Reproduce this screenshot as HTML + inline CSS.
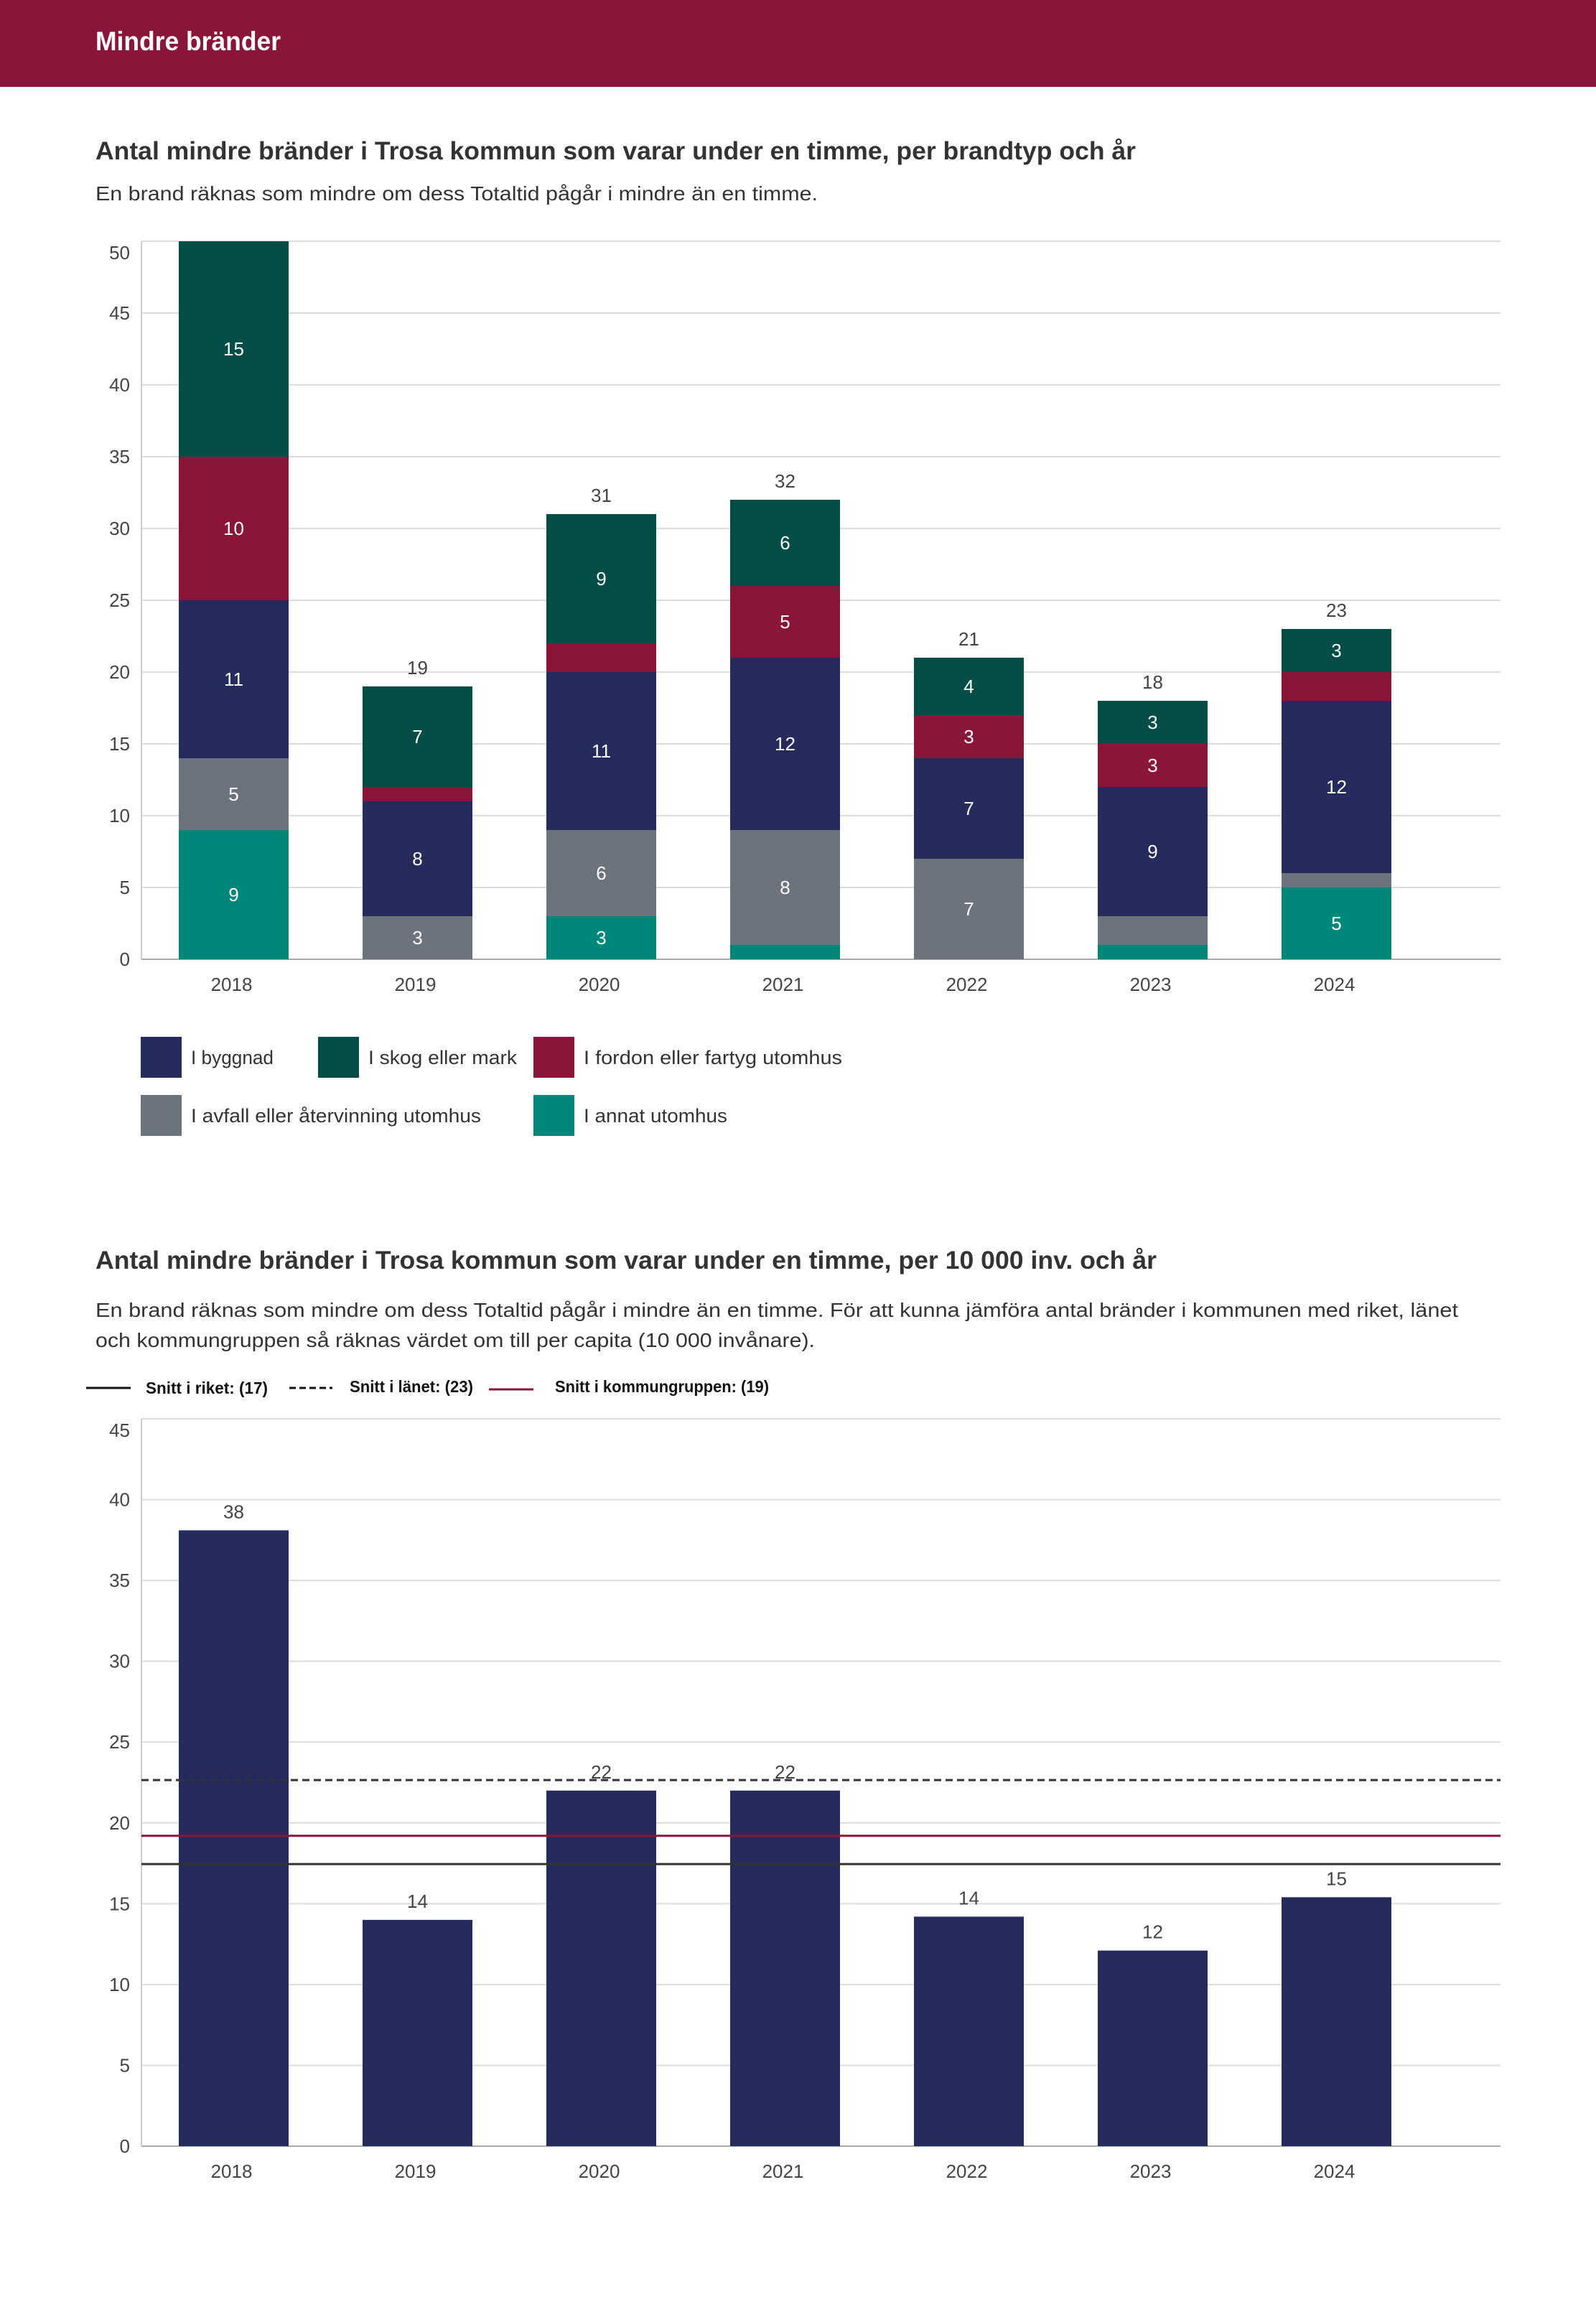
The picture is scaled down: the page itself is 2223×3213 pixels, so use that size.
<!DOCTYPE html>
<html><head><meta charset="utf-8"><style>
html,body{margin:0;padding:0;background:#fff;}
svg{display:block;font-family:"Liberation Sans",sans-serif;}
</style></head><body>
<svg id="s" width="2223" height="3213" viewBox="0 0 2223 3213" xmlns="http://www.w3.org/2000/svg">
<rect x="0" y="0" width="2223" height="121" fill="#8b1538"/>
<text x="133" y="70" font-size="37" font-weight="bold" fill="#fff" textLength="258" lengthAdjust="spacingAndGlyphs">Mindre bränder</text>
<text x="133" y="222" font-size="35" font-weight="bold" fill="#333" textLength="1449" lengthAdjust="spacingAndGlyphs">Antal mindre bränder i Trosa kommun som varar under en timme, per brandtyp och år</text>
<text x="133" y="279" font-size="28" fill="#333" textLength="1006" lengthAdjust="spacingAndGlyphs">En brand räknas som mindre om dess Totaltid pågår i mindre än en timme.</text>
<g id="c1"></g>
<g>
 <rect x="196" y="1444" width="57" height="57" fill="#252b5c"/>
 <text x="266" y="1482" font-size="27" fill="#333" textLength="115" lengthAdjust="spacingAndGlyphs">I byggnad</text>
 <rect x="443" y="1444" width="57" height="57" fill="#024d45"/>
 <text x="513" y="1482" font-size="27" fill="#333" textLength="207" lengthAdjust="spacingAndGlyphs">I skog eller mark</text>
 <rect x="743" y="1444" width="57" height="57" fill="#8b1538"/>
 <text x="813" y="1482" font-size="27" fill="#333" textLength="360" lengthAdjust="spacingAndGlyphs">I fordon eller fartyg utomhus</text>
 <rect x="196" y="1525" width="57" height="57" fill="#6b737c"/>
 <text x="266" y="1563" font-size="27" fill="#333" textLength="404" lengthAdjust="spacingAndGlyphs">I avfall eller återvinning utomhus</text>
 <rect x="743" y="1525" width="57" height="57" fill="#00877a"/>
 <text x="813" y="1563" font-size="27" fill="#333" textLength="200" lengthAdjust="spacingAndGlyphs">I annat utomhus</text>
</g>
<text x="133" y="1767" font-size="35" font-weight="bold" fill="#333" textLength="1478" lengthAdjust="spacingAndGlyphs">Antal mindre bränder i Trosa kommun som varar under en timme, per 10 000 inv. och år</text>
<text x="133" y="1834" font-size="28" fill="#333" textLength="1898" lengthAdjust="spacingAndGlyphs">En brand räknas som mindre om dess Totaltid pågår i mindre än en timme. För att kunna jämföra antal bränder i kommunen med riket, länet</text>
<text x="133" y="1876" font-size="28" fill="#333" textLength="1002" lengthAdjust="spacingAndGlyphs">och kommungruppen så räknas värdet om till per capita (10 000 invånare).</text>
<g>
 <line x1="120" y1="1933" x2="182" y2="1933" stroke="#111" stroke-width="3"/>
 <text x="203" y="1941" font-size="23" font-weight="bold" fill="#111" textLength="170" lengthAdjust="spacingAndGlyphs">Snitt i riket: (17)</text>
 <line x1="403" y1="1933" x2="463" y2="1933" stroke="#111" stroke-width="3" stroke-dasharray="9,5"/>
 <text x="487" y="1939" font-size="23" font-weight="bold" fill="#111" textLength="172" lengthAdjust="spacingAndGlyphs">Snitt i länet: (23)</text>
 <line x1="681" y1="1935" x2="743" y2="1935" stroke="#8b1538" stroke-width="3"/>
 <text x="773" y="1939" font-size="23" font-weight="bold" fill="#111" textLength="298" lengthAdjust="spacingAndGlyphs">Snitt i kommungruppen: (19)</text>
</g>
<g id="c2"></g>
</svg>
<script>
const years = ["2018","2019","2020","2021","2022","2023","2024"];
const annat = [9,0,3,1,0,1,5];
const avfall = [5,3,6,8,7,2,1];
const byggnad = [11,8,11,12,7,9,12];
const fordon = [10,1,2,5,3,3,2];
const skog = [15,7,9,6,4,3,3];
const yTicks1 = [0,5,10,15,20,25,30,35,40,45,50];
const perCapita = [38.1,14.0,22.0,22.0,14.2,12.1,15.4];
const perCapitaLabels = ["38","14","22","22","14","12","15"];
const yTicks2 = [0,5,10,15,20,25,30,35,40,45];
const avgRiket = [17.45];
const avgLanet = [22.65];
const avgKommungrupp = [19.2];

const NS="http://www.w3.org/2000/svg";
function mk(tag, attrs, parent){const e=document.createElementNS(NS,tag);for(const k in attrs)e.setAttribute(k,attrs[k]);parent.appendChild(e);return e;}
const X0=197, XR=2090, BAND=256, BW=153;
function xc(i){return X0+BAND*(i+0.5)+0.5;}

// Chart 1
const c1=document.getElementById('c1');
const Y0a=1336, Y1a=336, MAXa=50;
function y1(v){return Y0a-(v/MAXa)*(Y0a-Y1a);}
yTicks1.forEach(t=>{
  const l=mk('line',{x1:X0,x2:XR,y1:y1(t),y2:y1(t),stroke:t===0?'#aaa':'#dcdcdc','stroke-width':2},c1);
  
  
  const tx=mk('text',{x:181,y:y1(t)+(t===MAXa?25:9),'font-size':26,fill:'#444','text-anchor':'end'},c1);
  tx.textContent=t;
  
  
});
const ax1=mk('line',{x1:X0,x2:X0,y1:Y1a,y2:Y0a,stroke:'#ccc','stroke-width':2},c1);


const series=[["annat",annat,"#00877a"],["avfall",avfall,"#6b737c"],["byggnad",byggnad,"#252b5c"],["fordon",fordon,"#8b1538"],["skog",skog,"#024d45"]];
years.forEach((yr,i)=>{
  let cum=0;
  series.forEach(s=>{
    const v=s[1][i];
    if(v>0){
      const r=mk('rect',{x:xc(i)-BW/2,y:y1(cum+v),width:BW,height:y1(cum)-y1(cum+v),fill:s[2]},c1);
      
      
      if(v>=3){
        const t=mk('text',{x:xc(i),y:(y1(cum)+y1(cum+v))/2+9,'font-size':26,fill:'#fff','text-anchor':'middle'},c1);
        t.textContent=v;
        
        
      }
    }
    cum+=v;
  });
  if(cum<MAXa){
    const t=mk('text',{x:xc(i),y:y1(cum)-17,'font-size':26,fill:'#444','text-anchor':'middle'},c1);
    t.textContent=cum;
    
    
  }
  const xl=mk('text',{x:xc(i)-3,y:1380,'font-size':26,fill:'#444','text-anchor':'middle'},c1);
  xl.textContent=yr;
  
  
});

// Chart 2
const c2=document.getElementById('c2');
const Y0b=2989, Y1b=1976, MAXb=45;
function y2(v){return Y0b-(v/MAXb)*(Y0b-Y1b);}
yTicks2.forEach(t=>{
  const l=mk('line',{x1:X0,x2:XR,y1:y2(t),y2:y2(t),stroke:t===0?'#aaa':'#dcdcdc','stroke-width':2},c2);
  
  
  const tx=mk('text',{x:181,y:y2(t)+(t===MAXb?25:9),'font-size':26,fill:'#444','text-anchor':'end'},c2);
  tx.textContent=t;
  
  
});
const ax2=mk('line',{x1:X0,x2:X0,y1:Y1b,y2:Y0b,stroke:'#ccc','stroke-width':2},c2);


years.forEach((yr,i)=>{
  const v=perCapita[i];
  const r=mk('rect',{x:xc(i)-BW/2,y:y2(v),width:BW,height:Y0b-y2(v),fill:'#252b5c'},c2);
  
  
  const t=mk('text',{x:xc(i),y:y2(v)-17,'font-size':26,fill:'#444','text-anchor':'middle'},c2);
  t.textContent=perCapitaLabels[i];
  
  
  const xl=mk('text',{x:xc(i)-3,y:3033,'font-size':26,fill:'#444','text-anchor':'middle'},c2);
  xl.textContent=yr;
  
  
});
const lr=mk('line',{x1:X0,x2:XR,y1:y2(avgRiket[0]),y2:y2(avgRiket[0]),stroke:'#333','stroke-width':3},c2);


const ll=mk('line',{x1:X0,x2:XR,y1:y2(avgLanet[0]),y2:y2(avgLanet[0]),stroke:'#333','stroke-width':3,'stroke-dasharray':'10,6'},c2);


const lk=mk('line',{x1:X0,x2:XR,y1:y2(avgKommungrupp[0]),y2:y2(avgKommungrupp[0]),stroke:'#8b1538','stroke-width':3},c2);


</script>
</body></html>
